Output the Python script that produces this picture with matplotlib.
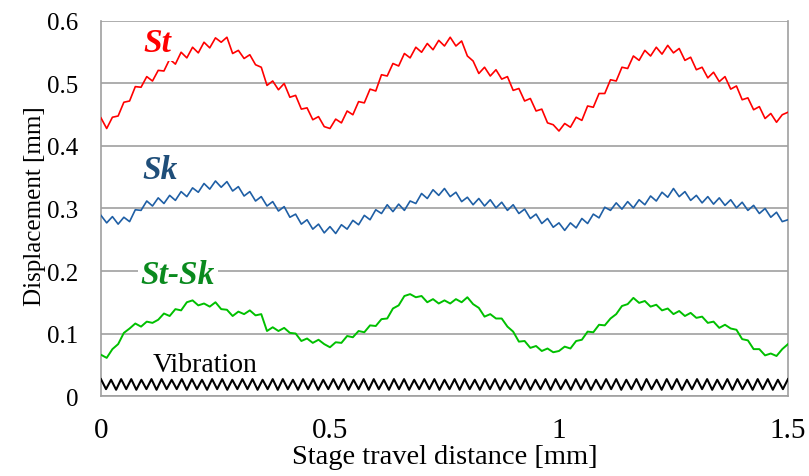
import numpy as np
import matplotlib
matplotlib.use('Agg')
import matplotlib.pyplot as plt

# displacement readings [mm], sampled every 0.0125 mm from 0 to 1.5 mm
st = [0.445, 0.428, 0.446, 0.448, 0.470, 0.472, 0.495, 0.494, 0.511, 0.504,
      0.521, 0.520, 0.539, 0.531, 0.550, 0.541, 0.558, 0.549, 0.566, 0.557,
      0.573, 0.566, 0.574, 0.548, 0.553, 0.540, 0.546, 0.530, 0.526, 0.497,
      0.504, 0.490, 0.500, 0.478, 0.481, 0.459, 0.461, 0.442, 0.447, 0.431,
      0.428, 0.443, 0.437, 0.456, 0.450, 0.471, 0.469, 0.491, 0.488, 0.514,
      0.512, 0.532, 0.528, 0.548, 0.541, 0.558, 0.550, 0.564, 0.554, 0.569,
      0.560, 0.574, 0.560, 0.568, 0.544, 0.536, 0.516, 0.526, 0.512, 0.522,
      0.507, 0.511, 0.489, 0.492, 0.472, 0.476, 0.456, 0.459, 0.437, 0.434,
      0.424, 0.436, 0.430, 0.446, 0.441, 0.464, 0.462, 0.484, 0.484, 0.506,
      0.504, 0.526, 0.524, 0.544, 0.537, 0.553, 0.544, 0.558, 0.547, 0.561,
      0.549, 0.556, 0.537, 0.542, 0.522, 0.526, 0.509, 0.518, 0.503, 0.511,
      0.491, 0.496, 0.474, 0.477, 0.458, 0.463, 0.444, 0.452, 0.438, 0.450,
      0.454]

sk = [0.289, 0.277, 0.287, 0.275, 0.286, 0.279, 0.298, 0.297, 0.312, 0.304,
      0.317, 0.308, 0.321, 0.313, 0.327, 0.319, 0.333, 0.326, 0.340, 0.331,
      0.344, 0.334, 0.343, 0.328, 0.335, 0.320, 0.327, 0.312, 0.319, 0.304,
      0.311, 0.296, 0.303, 0.286, 0.291, 0.275, 0.282, 0.267, 0.275, 0.261,
      0.271, 0.260, 0.274, 0.267, 0.281, 0.274, 0.289, 0.282, 0.298, 0.292,
      0.306, 0.295, 0.307, 0.297, 0.312, 0.308, 0.324, 0.316, 0.330, 0.321,
      0.332, 0.319, 0.326, 0.311, 0.318, 0.306, 0.316, 0.304, 0.314, 0.301,
      0.310, 0.297, 0.306, 0.292, 0.299, 0.284, 0.291, 0.276, 0.284, 0.270,
      0.277, 0.265, 0.277, 0.269, 0.284, 0.276, 0.291, 0.285, 0.302, 0.297,
      0.309, 0.299, 0.311, 0.301, 0.314, 0.306, 0.320, 0.312, 0.326, 0.318,
      0.332, 0.319, 0.327, 0.313, 0.321, 0.309, 0.319, 0.307, 0.317, 0.305,
      0.314, 0.301, 0.310, 0.297, 0.305, 0.292, 0.300, 0.286, 0.294, 0.279,
      0.282]

st_sk = [0.066, 0.061, 0.075, 0.083, 0.101, 0.108, 0.116, 0.111, 0.119, 0.117,
         0.122, 0.132, 0.128, 0.139, 0.137, 0.150, 0.153, 0.145, 0.148, 0.143,
         0.150, 0.139, 0.138, 0.128, 0.135, 0.131, 0.137, 0.129, 0.131, 0.104,
         0.110, 0.104, 0.109, 0.101, 0.100, 0.088, 0.092, 0.085, 0.090, 0.083,
         0.078, 0.086, 0.085, 0.096, 0.094, 0.104, 0.102, 0.113, 0.112, 0.123,
         0.124, 0.140, 0.145, 0.160, 0.163, 0.158, 0.160, 0.150, 0.155, 0.148,
         0.153, 0.148, 0.155, 0.150, 0.158, 0.147, 0.141, 0.127, 0.131, 0.124,
         0.124, 0.111, 0.103, 0.087, 0.088, 0.077, 0.080, 0.072, 0.076, 0.070,
         0.072, 0.079, 0.076, 0.088, 0.090, 0.103, 0.102, 0.114, 0.113, 0.124,
         0.131, 0.144, 0.147, 0.157, 0.149, 0.152, 0.143, 0.146, 0.137, 0.140,
         0.131, 0.136, 0.128, 0.133, 0.125, 0.127, 0.117, 0.119, 0.109, 0.114,
         0.108, 0.106, 0.091, 0.089, 0.075, 0.075, 0.065, 0.068, 0.064, 0.075,
         0.083]

# vibration: peaks and troughs, 137 points across 0 - 1.5 mm
vib = [0.027, 0.011, 0.026, 0.010, 0.027, 0.011, 0.027, 0.010, 0.026, 0.011,
       0.027, 0.010, 0.027, 0.011, 0.026, 0.011, 0.027, 0.010, 0.027, 0.011,
       0.026, 0.010, 0.027, 0.011, 0.027, 0.010, 0.026, 0.011, 0.027, 0.011,
       0.027, 0.010, 0.026, 0.011, 0.027, 0.010, 0.027, 0.011, 0.026, 0.010,
       0.027, 0.011, 0.027, 0.010, 0.026, 0.011, 0.027, 0.011, 0.027, 0.010,
       0.026, 0.011, 0.027, 0.010, 0.027, 0.011, 0.026, 0.010, 0.027, 0.011,
       0.027, 0.010, 0.026, 0.011, 0.027, 0.011, 0.027, 0.010, 0.026, 0.011,
       0.027, 0.010, 0.027, 0.011, 0.026, 0.010, 0.027, 0.011, 0.027, 0.010,
       0.026, 0.011, 0.027, 0.011, 0.027, 0.010, 0.026, 0.011, 0.027, 0.010,
       0.027, 0.011, 0.026, 0.010, 0.027, 0.011, 0.027, 0.010, 0.026, 0.011,
       0.027, 0.011, 0.027, 0.010, 0.026, 0.011, 0.027, 0.010, 0.027, 0.011,
       0.026, 0.010, 0.027, 0.011, 0.027, 0.010, 0.026, 0.011, 0.027, 0.011,
       0.027, 0.010, 0.026, 0.011, 0.027, 0.010, 0.027, 0.011, 0.026, 0.010,
       0.027, 0.011, 0.027, 0.010, 0.026, 0.011, 0.027]

x_ticks = [0, 0.5, 1, 1.5]
x_tick_labels = ['0', '0.5', '1', '1.5']
y_ticks = [0, 0.1, 0.2, 0.3, 0.4, 0.5, 0.6]
y_tick_labels = ['0', '0.1', '0.2', '0.3', '0.4', '0.5', '0.6']

plt.rcParams['font.family'] = ['Liberation Serif', 'DejaVu Serif']

fig = plt.figure(figsize=(8.09, 4.77), dpi=100)
ax = fig.add_axes([0.1248, 0.1677, 0.8492, 0.7862])

x_main = np.linspace(0, 1.5, len(st))
x_vib = np.linspace(0, 1.5, len(vib))

ax.plot(x_main, st, color='#ff0000', lw=1.2, zorder=3)
ax.plot(x_main, sk, color='#1f5fa5', lw=1.2, zorder=3)
ax.plot(x_main, st_sk, color='#00c000', lw=1.4, zorder=3)
ax.plot(x_vib, vib, color='black', lw=1.5, zorder=3)

ax.set_xlim(0, 1.5)
ax.set_ylim(0, 0.6)
ax.set_xticks(x_ticks)
ax.set_xticklabels(x_tick_labels)
ax.set_yticks(y_ticks)
ax.set_yticklabels(y_tick_labels)
ax.tick_params(length=0)
ax.tick_params(axis='y', pad=16, labelsize=18)
ax.tick_params(axis='x', pad=15, labelsize=21)

ax.yaxis.grid(True, color='#a0a0a0', lw=1.2, zorder=1)
ax.set_axisbelow(True)
ax.spines['top'].set_visible(False)
for s in ['left', 'bottom', 'right']:
    ax.spines[s].set_color('#a0a0a0')
    ax.spines[s].set_linewidth(1.2)

ax.set_xlabel('Stage travel distance [mm]', fontsize=20.5)
ax.xaxis.set_label_coords(0.5, -0.128)
ax.set_ylabel('Displacement [mm]', fontsize=18)
ax.yaxis.set_label_coords(-0.08, 0.51)

box = dict(facecolor='white', edgecolor='none', pad=2)
ax.text(0.122, 0.565, 'St', color='#ff0000', fontsize=24, fontweight='bold',
        style='italic', ha='center', va='center', bbox=box, zorder=5)
ax.text(0.129, 0.362, 'Sk', color='#1f4e79', fontsize=24, fontweight='bold',
        style='italic', ha='center', va='center', zorder=5)
ax.text(0.168, 0.195, 'St-Sk', color='#0a8a1e', fontsize=24, fontweight='bold',
        style='italic', ha='center', va='center', bbox=box, zorder=5)
ax.text(0.227, 0.05, 'Vibration', color='black', fontsize=20,
        ha='center', va='center', zorder=5)

fig.savefig('out.png', dpi=100)
